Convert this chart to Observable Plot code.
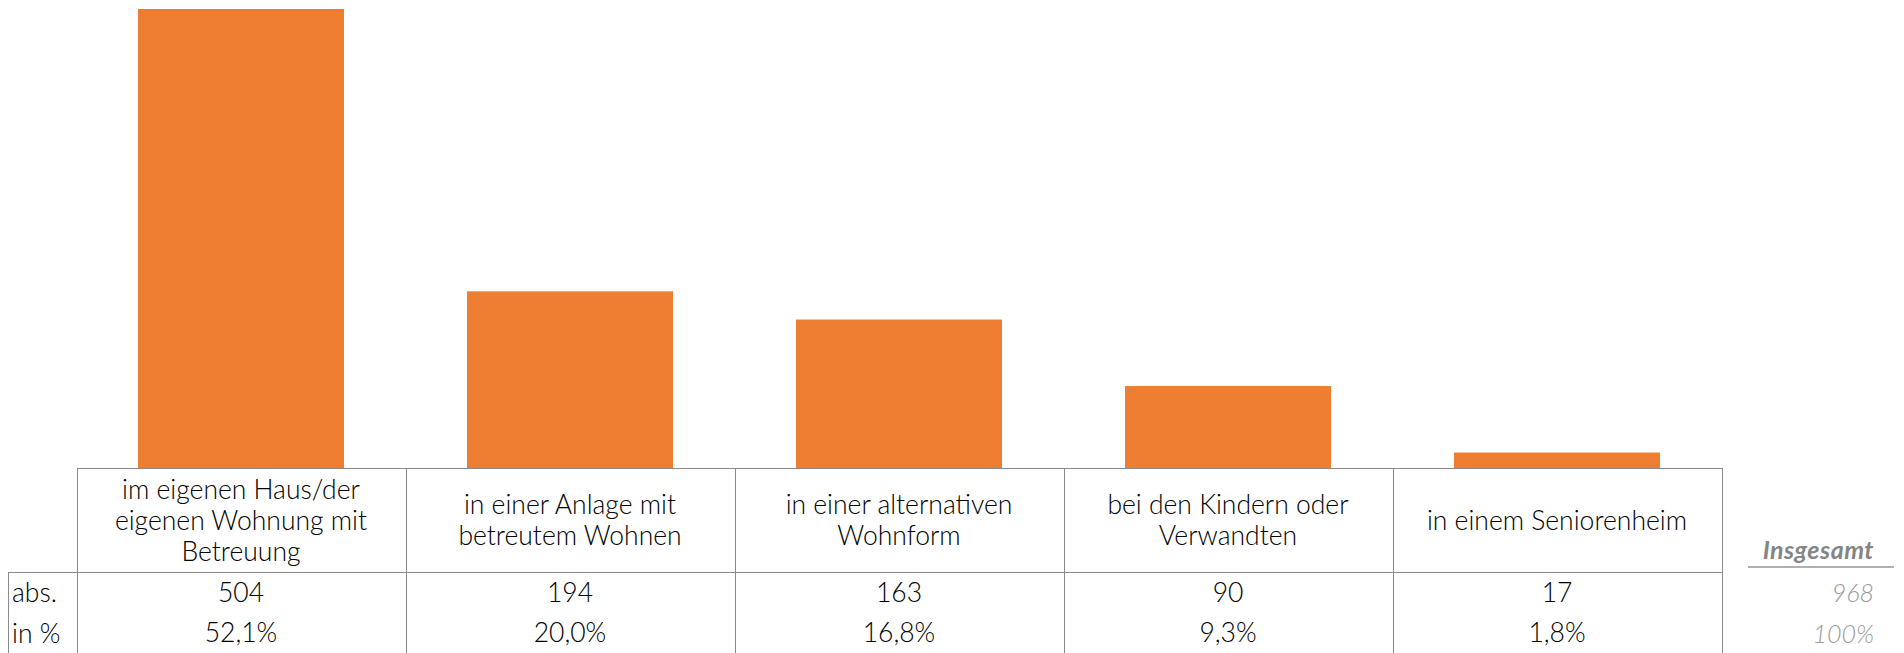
<!DOCTYPE html>
<html>
<head>
<meta charset="utf-8">
<script src="https://cdn.jsdelivr.net/npm/d3@7"></script>
<script src="https://cdn.jsdelivr.net/npm/@observablehq/plot@0.6"></script>
<style>
  html, body { margin: 0; padding: 0; background: #fff; }
  #wrap { position: relative; width: 1904px; height: 653px; overflow: hidden; font-family: Lato, "Open Sans", sans-serif; }
  #wrap svg { position: absolute; left: 0; top: 0; }
  .ln { position: absolute; background: #8a8a8a; }
  .cell { position: absolute; display: flex; align-items: center; justify-content: center; text-align: center;
          font-size: 26.5px; font-weight: 300; color: #000; line-height: 31px; white-space: pre-line; }
  .rowlab { position: absolute; display: flex; align-items: center; font-size: 26.5px; font-weight: 300; color: #000; }
  .tot { position: absolute; display: flex; align-items: center; justify-content: flex-end; font-size: 25px;
         font-style: italic; font-weight: 300; color: #9a9a9a; }
  .totlab { position: absolute; font-size: 25px; font-style: italic; font-weight: 700; color: #858585; text-align: right; letter-spacing: 0.5px; }
</style>
</head>
<body>
<div id="wrap"></div>
<script>
// ---- data ----
const categories = [
  "im eigenen Haus/der\neigenen Wohnung mit\nBetreuung",
  "in einer Anlage mit\nbetreutem Wohnen",
  "in einer alternativen\nWohnform",
  "bei den Kindern oder\nVerwandten",
  "in einem Seniorenheim"
];
const absValues = [504, 194, 163, 90, 17];
const pctLabels = ["52,1%", "20,0%", "16,8%", "9,3%", "1,8%"];
const rowLabels = ["abs.", "in %"];
const totalLabel = "Insgesamt";
const totalAbs = "968";
const totalPct = "100%";

const data = categories.map((c, i) => ({category: c, abs: absValues[i]}));

const W = 1904, H = 470;
const chart = Plot.plot({
  width: W, height: H,
  marginTop: 9, marginBottom: 2, marginLeft: 74, marginRight: 181,
  x: {domain: categories, paddingInner: 0.375, paddingOuter: 0.1875, axis: null},
  y: {domain: [0, d3.max(absValues)], axis: null},
  marks: [
    Plot.barY(data, {x: "category", y: "abs", fill: "#ED7D31"})
  ]
});
const wrap = document.getElementById("wrap");
wrap.appendChild(chart);

// ---- table under the bars, aligned to the band scale ----
const xs = chart.scale("x");
const yBase = H - 2;              // baseline of bars
const step = xs.step;
const colLeft = c => xs.apply(c) - (step - xs.bandwidth) / 2;
const tableLeft = colLeft(categories[0]);
const tableRight = colLeft(categories[categories.length - 1]) + step;
const headH = 104, rowH = 40.5;
const labLeft = 8;

function div(cls, css, text) {
  const d = document.createElement("div");
  d.className = cls;
  Object.assign(d.style, css);
  if (text !== undefined) d.textContent = text;
  wrap.appendChild(d);
  return d;
}
const px = v => v + "px";

// lines
div("ln", {left: px(tableLeft), top: px(yBase), width: px(tableRight - tableLeft + 1), height: "1px"});
div("ln", {left: px(labLeft), top: px(yBase + headH), width: px(tableRight - labLeft + 1), height: "1px"});
categories.forEach(c => div("ln", {left: px(colLeft(c)), top: px(yBase), width: "1px", height: px(200)}));
div("ln", {left: px(tableRight), top: px(yBase), width: "1px", height: px(200)});
div("ln", {left: px(labLeft), top: px(yBase + headH), width: "1px", height: px(200)});

// header + values
categories.forEach((c, i) => {
  const L = colLeft(c);
  div("cell", {left: px(L), top: px(yBase), width: px(step), height: px(headH)}, c);
  div("cell", {left: px(L), top: px(yBase + headH), width: px(step), height: px(rowH)}, String(absValues[i]));
  div("cell", {left: px(L), top: px(yBase + headH + rowH), width: px(step), height: px(rowH)}, pctLabels[i]);
});
rowLabels.forEach((r, j) => {
  div("rowlab", {left: px(labLeft + 4), top: px(yBase + headH + j * rowH), height: px(rowH)}, r);
});

// totals column
const totRight = W - 30;
div("totlab", {left: px(tableRight + 20), top: px(yBase + 66), width: px(totRight - tableRight - 20)}, totalLabel);
div("ln", {left: px(tableRight + 26), top: px(yBase + 98), width: px(W - 10 - tableRight - 26), height: "1.5px", background: "#b0b0b0"});
[totalAbs, totalPct].forEach((t, j) => {
  div("tot", {left: px(tableRight + 20), top: px(yBase + headH + j * rowH), width: px(totRight - tableRight - 20), height: px(rowH)}, t);
});
</script>
</body>
</html>
